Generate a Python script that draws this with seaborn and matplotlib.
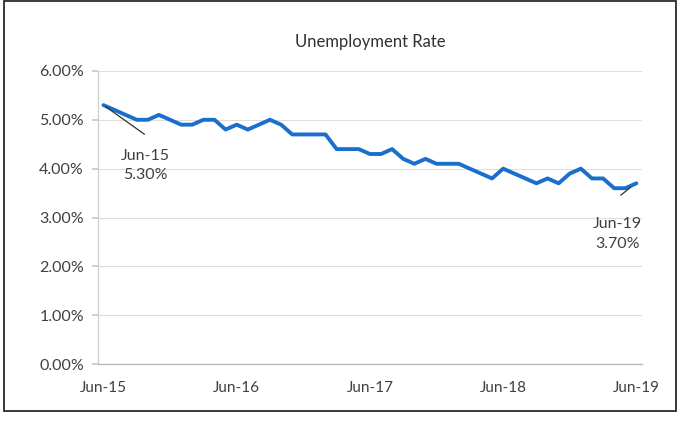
import matplotlib
matplotlib.use("Agg")
import matplotlib.pyplot as plt
from matplotlib.patches import Rectangle
from matplotlib.ticker import PercentFormatter
import numpy as np
import pandas as pd
import seaborn as sns

# Monthly unemployment rate, Jun-15 .. Jun-19 (percent)
months = pd.date_range("2015-06-01", "2019-06-01", freq="MS").strftime("%b-%y").tolist()
rate = [
    5.3, 5.2, 5.1, 5.0, 5.0, 5.1, 5.0, 4.9, 4.9, 5.0, 5.0, 4.8,
    4.9, 4.8, 4.9, 5.0, 4.9, 4.7, 4.7, 4.7, 4.7, 4.4, 4.4, 4.4,
    4.3, 4.3, 4.4, 4.2, 4.1, 4.2, 4.1, 4.1, 4.1, 4.0, 3.9, 3.8,
    4.0, 3.9, 3.8, 3.7, 3.8, 3.7, 3.9, 4.0, 3.8, 3.8, 3.6, 3.6,
    3.7,
]
tick_labels = ["Jun-15", "Jun-16", "Jun-17", "Jun-18", "Jun-19"]
callouts = [("Jun-15", "5.30%"), ("Jun-19", "3.70%")]

df = pd.DataFrame({"idx": np.arange(len(rate)), "month": months, "rate": rate})

sns.set_theme(style="white")
plt.rcParams["font.family"] = ["Lato", "DejaVu Sans"]

fig = plt.figure(figsize=(6.8, 4.22), dpi=100)
ax = fig.add_axes([0.144, 0.137, 0.8, 0.695])

text_col = "#404040"
sns.lineplot(data=df, x="idx", y="rate", ax=ax, color="#1a6fcc", linewidth=2.8)

ax.set_ylim(0, 6)
ax.set_xlim(-0.5, len(rate) - 0.5)
ax.set_yticks(np.arange(0, 7, 1))
ax.yaxis.set_major_formatter(PercentFormatter(decimals=2))
ax.yaxis.grid(True, color="#dedede", linewidth=0.8)
ax.set_axisbelow(True)

ax.set_xticks([0, 12, 24, 36, 48])
ax.set_xticklabels(tick_labels)
ax.set_xticks([-0.5, 11.5, 23.5, 35.5, 47.5], minor=True)
ax.tick_params(axis="x", which="major", length=0, pad=12, labelsize=11, labelcolor=text_col)
ax.tick_params(axis="x", which="minor", length=4, color="#b0b0b0", direction="inout")
ax.tick_params(axis="y", length=4, color="#c8c8c8", direction="out", left=True,
               pad=6, labelsize=11.5, labelcolor=text_col)
ax.set_xlabel("")
ax.set_ylabel("")

for side in ["top", "right"]:
    ax.spines[side].set_visible(False)
ax.spines["left"].set_color("#cfcfcf")
ax.spines["bottom"].set_color("#b5b5b5")
ax.spines["left"].set_linewidth(0.9)
ax.spines["bottom"].set_linewidth(0.9)

ax.set_title("Unemployment Rate", fontsize=12, color="#303030", pad=17)

# callouts for first and last points
lead = dict(arrowstyle="-", color="#303030", lw=0.9)
ax.annotate("", xy=(0, rate[0]), xytext=(3.9, 4.67), arrowprops=lead)
ax.text(3.75, 4.06, f"{callouts[0][0]}\n{callouts[0][1]}", ha="center", va="center",
        multialignment="center", fontsize=11.5, color=text_col, linespacing=1.5)
ax.annotate("", xy=(47.7, 3.66), xytext=(46.4, 3.42), arrowprops=lead)
ax.text(46.3, 2.66, f"{callouts[1][0]}\n{callouts[1][1]}", ha="center", va="center",
        multialignment="center", fontsize=11.5, color=text_col, linespacing=1.5)

# outer chart border
fig.patches.append(Rectangle((0.006, 0.027), 0.988, 0.97, transform=fig.transFigure,
                             fill=False, edgecolor="#2a2a2a", linewidth=1.3))

fig.savefig("out.png", dpi=100)
